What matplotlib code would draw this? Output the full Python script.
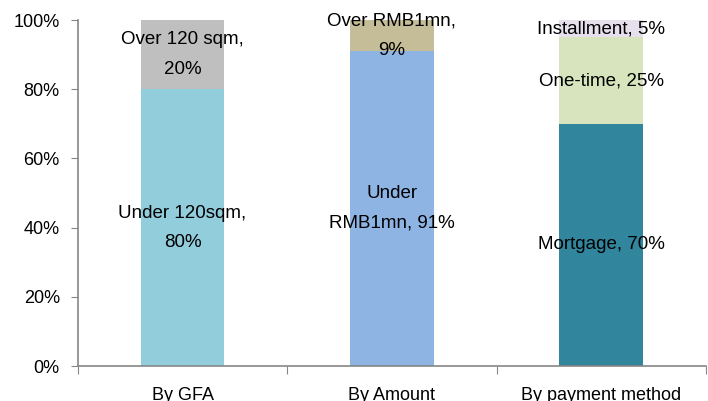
import matplotlib.pyplot as plt
from matplotlib.ticker import FuncFormatter

plt.rcParams["font.family"] = ["Liberation Sans", "DejaVu Sans"]

categorias = ["By GFA", "By Amount", "By payment method"]

# segmentos de cada barra, de baixo para cima (%)
valores_gfa = [80, 20]
rotulos_gfa = ["Under 120sqm,\n80%", "Over 120 sqm,\n20%"]
cores_gfa = ["#92CDDC", "#BFBFBF"]

valores_amount = [91, 9]
rotulos_amount = ["Under\nRMB1mn, 91%", "Over RMB1mn,\n9%"]
cores_amount = ["#8EB4E3", "#C4BD97"]

valores_pagamento = [70, 25, 5]
rotulos_pagamento = ["Mortgage, 70%", "One-time, 25%", "Installment, 5%"]
cores_pagamento = ["#31859C", "#D7E4BD", "#E6E0EC"]

barras = [
    (valores_gfa, rotulos_gfa, cores_gfa),
    (valores_amount, rotulos_amount, cores_amount),
    (valores_pagamento, rotulos_pagamento, cores_pagamento),
]

fig = plt.figure(figsize=(7.08, 4.01), dpi=100)
ax = fig.add_axes([0.110, 0.087, 0.887, 0.863])

for i, (valores, rotulos, cores) in enumerate(barras):
    base = 0
    for valor, rotulo, cor in zip(valores, rotulos, cores):
        ax.bar(i, valor, bottom=base, width=0.4, color=cor)
        ax.text(i, base + valor / 2, rotulo, ha="center", va="center",
                fontsize=13.5, linespacing=1.95, color="black")
        base += valor

ax.set_xlim(-0.5, 2.5)
ax.set_ylim(0, 100)
ax.set_yticks(range(0, 101, 20))
ax.yaxis.set_major_formatter(FuncFormatter(lambda v, p: f"{v:.0f}%"))
ax.set_xticks([-0.5, 0.5, 1.5, 2.5])
ax.set_xticklabels([])
ax.set_xticks([0, 1, 2], minor=True)
ax.set_xticklabels(categorias, minor=True)
ax.tick_params(axis="x", which="minor", length=0, pad=15, labelsize=13)
ax.tick_params(axis="x", which="major", direction="out", length=6, color="#868686")
ax.tick_params(axis="y", direction="out", length=5, color="#868686", labelsize=13, pad=8)

for lado in ["top", "right"]:
    ax.spines[lado].set_visible(False)
for lado in ["left", "bottom"]:
    ax.spines[lado].set_color("#868686")
    ax.spines[lado].set_linewidth(1.2)

plt.savefig("out.png", dpi=100)
